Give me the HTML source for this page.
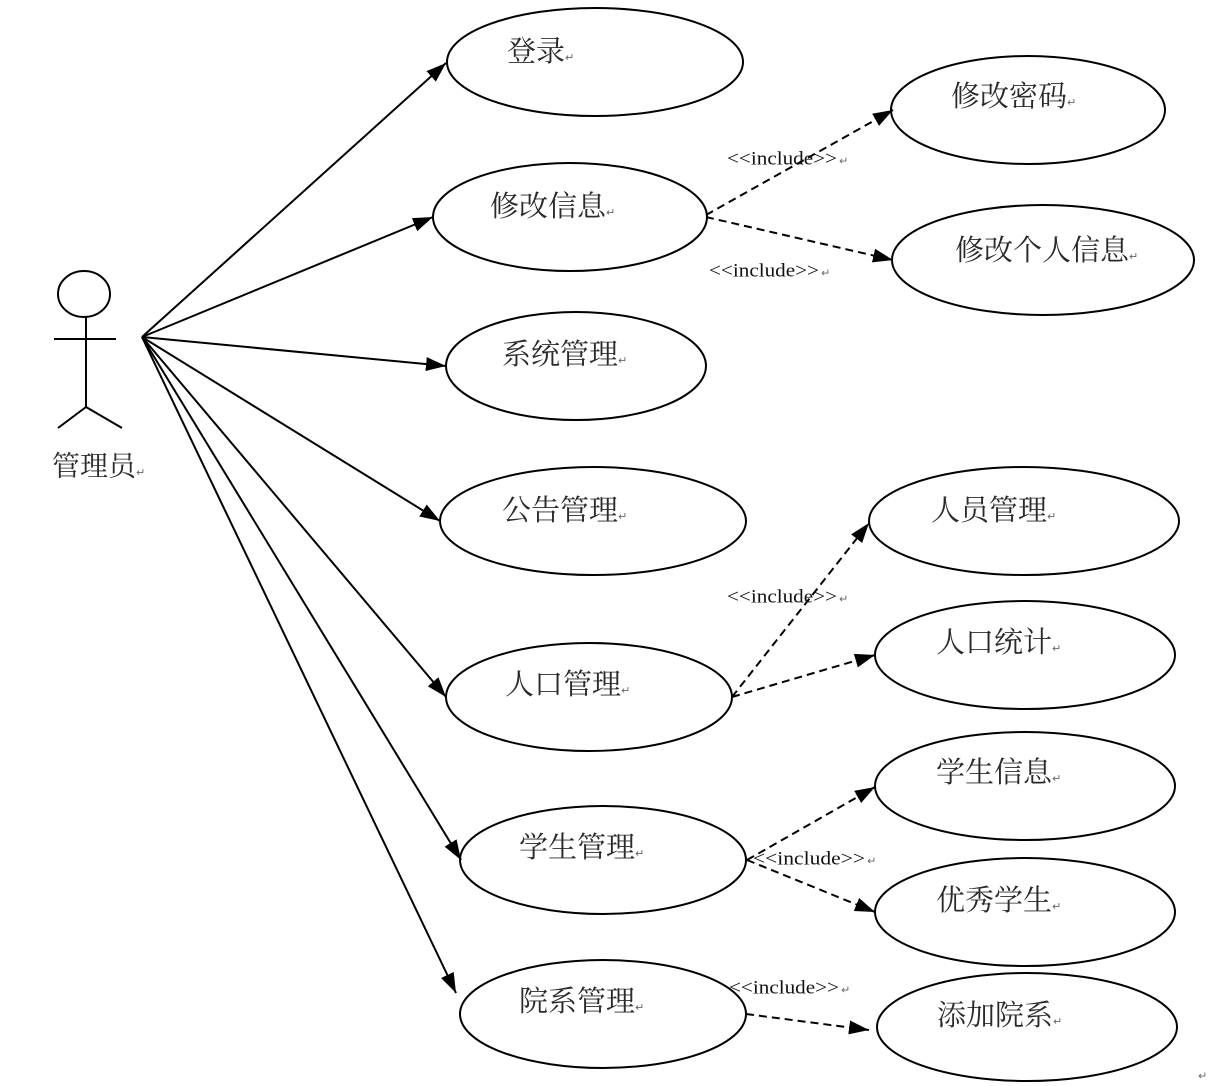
<!DOCTYPE html>
<html><head><meta charset="utf-8"><style>
html,body{margin:0;padding:0;background:#fff;}
svg{display:block;}
.cj{font-family:"Liberation Serif","Noto Serif CJK SC",serif;font-size:29px;fill:#2a2a2a;}
.inc{font-family:"Liberation Serif","Noto Serif CJK SC",serif;font-size:19px;fill:#111;}
.pm{font-size:11px;fill:#666;font-family:"DejaVu Sans",sans-serif;}
</style></head><body>
<svg width="1225" height="1086" viewBox="0 0 1225 1086" xmlns="http://www.w3.org/2000/svg">
<defs>
<marker id="ah" markerUnits="userSpaceOnUse" markerWidth="22" markerHeight="16" refX="20" refY="7" orient="auto">
<path d="M0,0 L20,7 L0,14 Z" fill="#000"/>
</marker>
</defs>
<g fill="none" stroke="#000" stroke-width="2">
<!-- actor -->
<ellipse cx="84" cy="294" rx="26" ry="23"/>
<line x1="86" y1="317" x2="86" y2="407"/>
<line x1="54" y1="339" x2="116" y2="339"/>
<line x1="86" y1="407" x2="58" y2="428"/>
<line x1="86" y1="407" x2="122" y2="428"/>
<!-- use case ellipses -->
<ellipse cx="595" cy="62" rx="148" ry="54"/>
<ellipse cx="570" cy="217" rx="137" ry="54"/>
<ellipse cx="576" cy="366" rx="130" ry="54"/>
<ellipse cx="593" cy="521" rx="153" ry="54"/>
<ellipse cx="589" cy="697" rx="143" ry="54"/>
<ellipse cx="603" cy="860" rx="143" ry="54"/>
<ellipse cx="603" cy="1014" rx="143" ry="54"/>
<ellipse cx="1028" cy="110" rx="137" ry="54"/>
<ellipse cx="1043" cy="260" rx="151" ry="55"/>
<ellipse cx="1024" cy="521" rx="155" ry="54"/>
<ellipse cx="1025" cy="655" rx="150" ry="54"/>
<ellipse cx="1025" cy="786" rx="150" ry="54"/>
<ellipse cx="1025" cy="912" rx="150" ry="54"/>
<ellipse cx="1027" cy="1027" rx="150" ry="54"/>
<!-- solid associations -->
<line x1="142" y1="337" x2="446" y2="63" marker-end="url(#ah)"/>
<line x1="142" y1="337" x2="433" y2="217" marker-end="url(#ah)"/>
<line x1="142" y1="337" x2="446" y2="366" marker-end="url(#ah)"/>
<line x1="142" y1="337" x2="440" y2="521" marker-end="url(#ah)"/>
<line x1="142" y1="337" x2="446" y2="697" marker-end="url(#ah)"/>
<line x1="142" y1="337" x2="461" y2="860" marker-end="url(#ah)"/>
<line x1="142" y1="337" x2="456" y2="993" marker-end="url(#ah)"/>
<!-- dashed includes -->
<g stroke-dasharray="8,5">
<line x1="706" y1="215" x2="893" y2="110" marker-end="url(#ah)"/>
<line x1="706" y1="217" x2="893" y2="260" marker-end="url(#ah)"/>
<line x1="732" y1="697" x2="869" y2="523" marker-end="url(#ah)"/>
<line x1="732" y1="697" x2="875" y2="655" marker-end="url(#ah)"/>
<line x1="747" y1="860" x2="875" y2="787" marker-end="url(#ah)"/>
<line x1="747" y1="860" x2="875" y2="912" marker-end="url(#ah)"/>
<line x1="746" y1="1014" x2="869" y2="1030" marker-end="url(#ah)"/>
</g>
</g>
<!-- labels -->
<g class="cj" dominant-baseline="central">
<text x="507" y="52">登录<tspan class="pm" dy="5">↵</tspan></text>
<text x="490" y="207">修改信息<tspan class="pm" dy="5">↵</tspan></text>
<text x="502" y="355">系统管理<tspan class="pm" dy="5">↵</tspan></text>
<text x="502" y="511">公告管理<tspan class="pm" dy="5">↵</tspan></text>
<text x="505" y="685">人口管理<tspan class="pm" dy="5">↵</tspan></text>
<text x="519" y="848">学生管理<tspan class="pm" dy="5">↵</tspan></text>
<text x="519" y="1002">院系管理<tspan class="pm" dy="5">↵</tspan></text>
<text x="951" y="97">修改密码<tspan class="pm" dy="5">↵</tspan></text>
<text x="955" y="251">修改个人信息<tspan class="pm" dy="5">↵</tspan></text>
<text x="931" y="511">人员管理<tspan class="pm" dy="5">↵</tspan></text>
<text x="936" y="643">人口统计<tspan class="pm" dy="5">↵</tspan></text>
<text x="936" y="773">学生信息<tspan class="pm" dy="5">↵</tspan></text>
<text x="936" y="901">优秀学生<tspan class="pm" dy="5">↵</tspan></text>
<text x="937" y="1016">添加院系<tspan class="pm" dy="5">↵</tspan></text>
<text x="52" y="467" style="font-size:28px">管理员<tspan class="pm" dy="5">↵</tspan></text>
</g>
<g class="inc" dominant-baseline="central">
<text x="727" y="159" textLength="110" lengthAdjust="spacingAndGlyphs">&lt;&lt;include&gt;&gt;</text><text class="pm" x="839" y="161">↵</text>
<text x="709" y="271" textLength="110" lengthAdjust="spacingAndGlyphs">&lt;&lt;include&gt;&gt;</text><text class="pm" x="821" y="273">↵</text>
<text x="727" y="597" textLength="110" lengthAdjust="spacingAndGlyphs">&lt;&lt;include&gt;&gt;</text><text class="pm" x="839" y="599">↵</text>
<text x="753" y="859" textLength="112" lengthAdjust="spacingAndGlyphs">&lt;&lt;include&gt;&gt;</text><text class="pm" x="867" y="861">↵</text>
<text x="729" y="988" textLength="110" lengthAdjust="spacingAndGlyphs">&lt;&lt;include&gt;&gt;</text><text class="pm" x="841" y="990">↵</text>
<text class="pm" x="1198" y="1076">↵</text>
</g>
</svg>
</body></html>
